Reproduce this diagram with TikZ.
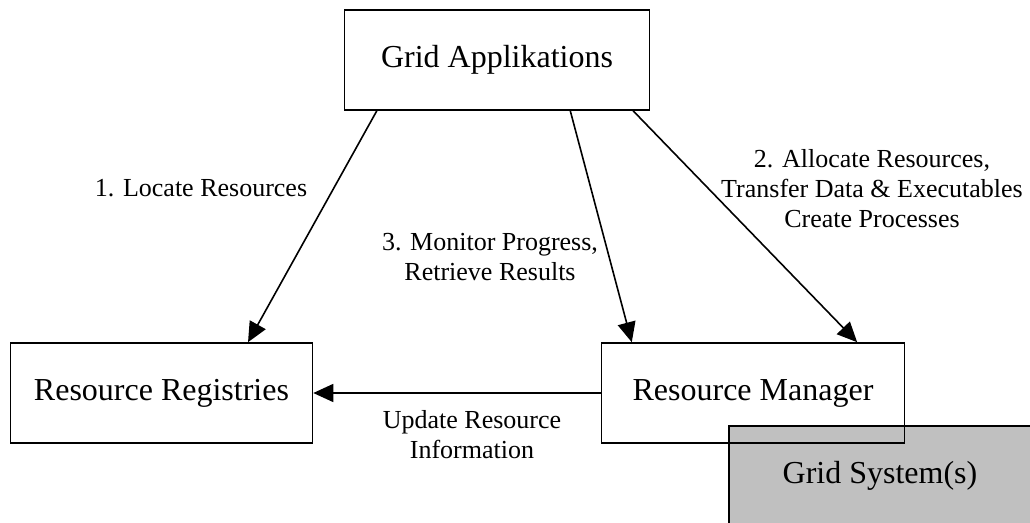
\documentclass[tikz,border=0pt]{standalone}
\usepackage{fontspec}
\setmainfont{Liberation Serif}
\usetikzlibrary{arrows.meta,calc}
\definecolor{gsgray}{RGB}{192,192,192}
\begin{document}
\begin{tikzpicture}[x=1pt,y=-1pt,
  box/.style={draw,line width=1.6pt,minimum height=100pt,inner sep=0pt,font=\fontsize{32}{38}\selectfont},
  lbl/.style={align=center,inner sep=0pt,font=\fontsize{26}{30}\selectfont},
  arr/.style={line width=1.6pt,-{Triangle[length=20pt,width=18pt]}}]
\useasboundingbox (0,0) rectangle (1030,522);
\begin{scope}
  \clip (0,0) rectangle (1030,522);
  \node[box,fill=gsgray,minimum width=302pt] (gs) at (880,476) {Grid System(s)};
\end{scope}
\node[box,minimum width=305pt] (ga) at (497,60) {Grid Applikations};
\node[box,minimum width=302pt] (rr) at (161.5,393) {Resource Registries};
\node[box,minimum width=303pt] (rm) at (753,393) {Resource Manager};

\draw[arr] ($(ga.south west)!0.108!(ga.south east)$) -- ($(rr.north west)!0.785!(rr.north east)$);
\draw[arr] ($(ga.south west)!0.739!(ga.south east)$) -- ($(rm.north west)!0.102!(rm.north east)$);
\draw[arr] ($(ga.south west)!0.944!(ga.south east)$) -- ($(rm.north west)!0.842!(rm.north east)$);
\draw[arr] (rm.west) -- (rr.east);

\node[lbl] (l1) at (201,188) {1. Locate Resources};
\node[lbl] (l3) at (490,257) {3. Monitor Progress,\\Retrieve Results};
\node[lbl] (l2) at (872,189) {2. Allocate Resources,\\Transfer Data \& Executables\\Create Processes};
\node[lbl] (l4) at (472,435) {Update Resource\\Information};
\end{tikzpicture}
\end{document}
